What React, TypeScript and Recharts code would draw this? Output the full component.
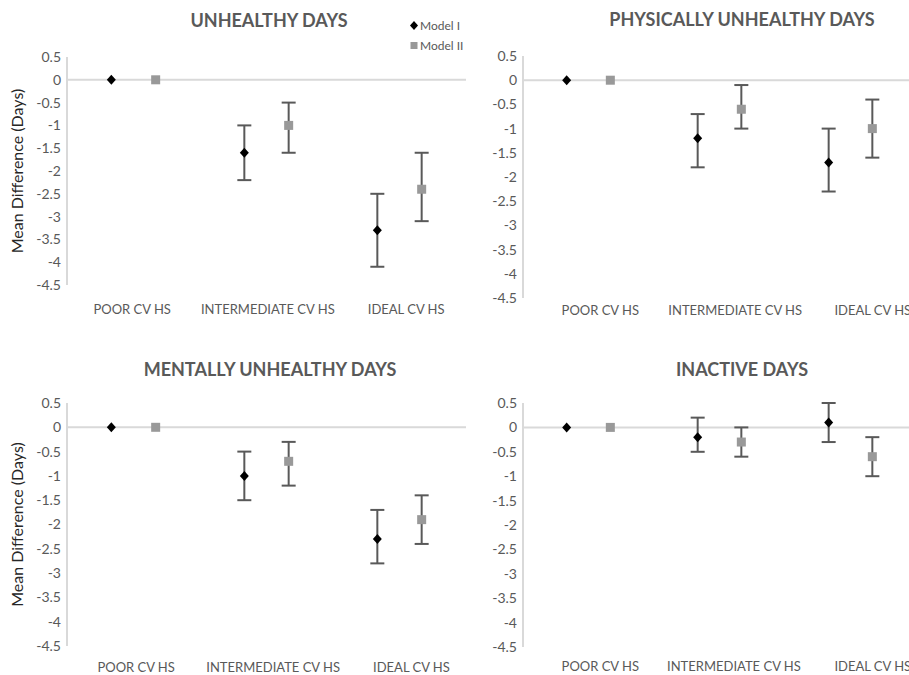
import { ErrorBar, Legend, ReferenceLine, Scatter, ScatterChart, XAxis, YAxis } from "recharts";

const categories = ["POOR CV HS", "INTERMEDIATE CV HS", "IDEAL CV HS"];
const yTicks = [0.5, 0, -0.5, -1, -1.5, -2, -2.5, -3, -3.5, -4, -4.5];
const seriesNames = ["Model I", "Model II"];

// unhealthy days
const unhealthyM1 = [0, -1.6, -3.3];
const unhealthyM1Low = [0, -2.2, -4.1];
const unhealthyM1High = [0, -1.0, -2.5];
const unhealthyM2 = [0, -1.0, -2.4];
const unhealthyM2Low = [0, -1.6, -3.1];
const unhealthyM2High = [0, -0.5, -1.6];

// physically unhealthy days
const physicalM1 = [0, -1.2, -1.7];
const physicalM1Low = [0, -1.8, -2.3];
const physicalM1High = [0, -0.7, -1.0];
const physicalM2 = [0, -0.6, -1.0];
const physicalM2Low = [0, -1.0, -1.6];
const physicalM2High = [0, -0.1, -0.4];

// mentally unhealthy days
const mentalM1 = [0, -1.0, -2.3];
const mentalM1Low = [0, -1.5, -2.8];
const mentalM1High = [0, -0.5, -1.7];
const mentalM2 = [0, -0.7, -1.9];
const mentalM2Low = [0, -1.2, -2.4];
const mentalM2High = [0, -0.3, -1.4];

// inactive days
const inactiveM1 = [0, -0.2, 0.1];
const inactiveM1Low = [0, -0.5, -0.3];
const inactiveM1High = [0, 0.2, 0.5];
const inactiveM2 = [0, -0.3, -0.6];
const inactiveM2Low = [0, -0.6, -1.0];
const inactiveM2High = [0, 0.0, -0.2];

const FONT = "Lato, 'Open Sans', sans-serif";
const TEXT = "#595959";
const GRID = "#d9d9d9";
const M1_COLOR = "#000000";
const M2_COLOR = "#999999";

function build(values: number[], low: number[], high: number[], offset: number) {
	return values.map((v, i) => ({
		x: i + offset,
		y: v,
		err: low[i] === high[i] ? undefined : [v - low[i], high[i] - v],
	}));
}

const Diamond = (p: any) => (
	<polygon
		points={`${p.cx},${p.cy - 5} ${p.cx + 4.5},${p.cy} ${p.cx},${p.cy + 5} ${p.cx - 4.5},${p.cy}`}
		fill={M1_COLOR}
	/>
);

const Square = (p: any) => <rect x={p.cx - 4.5} y={p.cy - 4.5} width={9} height={9} fill={M2_COLOR} />;

const LegendContent = (props: any) => (
	<ul style={{ margin: 0, padding: 0, listStyle: "none" }}>
		{(props.payload || []).map((e: any) => (
			<li key={e.value} style={{ height: 20, display: "flex", alignItems: "center", whiteSpace: "nowrap" }}>
				<svg width={8} height={9} style={{ marginRight: 2 }}>
					{e.type === "diamond" ? (
						<polygon points="4,0 8,4.5 4,9 0,4.5" fill={M1_COLOR} />
					) : (
						<rect x={0.5} y={1} width={7} height={7} fill={M2_COLOR} />
					)}
				</svg>
				<span style={{ color: TEXT }}>{e.value}</span>
			</li>
		))}
	</ul>
);

const panels = [
	{
		title: "UNHEALTHY DAYS",
		left: 0, top: 0, width: 466, height: 330,
		margin: { top: 57, right: 0, left: 27, bottom: 15 },
		yWidth: 40, xHeight: 30, tickGap: 20,
		tickPos: [0.49, 1.51, 2.55],
		titleX: 269, titleY: 20,
		yLabel: true, legend: true,
		m1: build(unhealthyM1, unhealthyM1Low, unhealthyM1High, 1 / 3),
		m2: build(unhealthyM2, unhealthyM2Low, unhealthyM2High, 2 / 3),
	},
	{
		title: "PHYSICALLY UNHEALTHY DAYS",
		left: 466, top: 0, width: 450, height: 330,
		margin: { top: 56, right: 0, left: 12, bottom: 2 },
		yWidth: 45, xHeight: 30, tickGap: 8,
		tickPos: [0.59, 1.62, 2.67],
		titleX: 742, titleY: 19,
		yLabel: false, legend: false,
		m1: build(physicalM1, physicalM1Low, physicalM1High, 1 / 3),
		m2: build(physicalM2, physicalM2Low, physicalM2High, 2 / 3),
	},
	{
		title: "MENTALLY UNHEALTHY DAYS",
		left: 0, top: 340, width: 466, height: 335,
		margin: { top: 63, right: 0, left: 27, bottom: 4 },
		yWidth: 40, xHeight: 25, tickGap: 17,
		tickPos: [0.52, 1.55, 2.59],
		titleX: 270, titleY: 369,
		yLabel: true, legend: false,
		m1: build(mentalM1, mentalM1Low, mentalM1High, 1 / 3),
		m2: build(mentalM2, mentalM2Low, mentalM2High, 2 / 3),
	},
	{
		title: "INACTIVE DAYS",
		left: 466, top: 340, width: 450, height: 335,
		margin: { top: 63, right: 0, left: 12, bottom: 3 },
		yWidth: 45, xHeight: 25, tickGap: 15,
		tickPos: [0.59, 1.61, 2.67],
		titleX: 742, titleY: 369,
		yLabel: false, legend: false,
		m1: build(inactiveM1, inactiveM1Low, inactiveM1High, 1 / 3),
		m2: build(inactiveM2, inactiveM2Low, inactiveM2High, 2 / 3),
	},
];

function Panel({ p }: { p: (typeof panels)[number] }) {
	return (
		<div style={{ position: "absolute", left: p.left, top: p.top }}>
			<ScatterChart width={p.width} height={p.height} margin={p.margin}>
				<XAxis
					type="number"
					dataKey="x"
					domain={[0, 3]}
					ticks={p.tickPos}
					interval={0}
					tickFormatter={(v: number) => categories[Math.floor(v)]}
					axisLine={false}
					tickLine={false}
					tickSize={0}
					tickMargin={p.tickGap}
					height={p.xHeight}
					tick={{ fill: TEXT, fontSize: 13, fontFamily: FONT }}
					allowDataOverflow
				/>
				<YAxis
					type="number"
					dataKey="y"
					domain={[-4.5, 0.5]}
					ticks={yTicks}
					interval={0}
					width={p.yWidth}
					axisLine={{ stroke: GRID, strokeWidth: 2 }}
					tickLine={false}
					tickSize={0}
					tickMargin={6}
					tick={{ fill: TEXT, fontSize: 14, fontFamily: FONT }}
					allowDataOverflow
					label={
						p.yLabel
							? {
									value: "Mean Difference (Days)",
									angle: -90,
									position: "insideLeft",
									offset: -10,
									style: { textAnchor: "middle", fill: "#262626", fontSize: 16, fontFamily: FONT },
								}
							: undefined
					}
				/>
				<ReferenceLine y={0} stroke={GRID} strokeWidth={2} />
				{p.legend ? (
					<Legend
						layout="vertical"
						align="center"
						verticalAlign="top"
						content={LegendContent}
						wrapperStyle={{
							top: 15,
							left: 410,
							width: 70,
							height: 0,
							overflow: "visible",
							fontSize: 12,
							fontFamily: FONT,
						}}
					/>
				) : null}
				<Scatter
					name={seriesNames[0]}
					data={p.m1}
					fill={M1_COLOR}
					legendType="diamond"
					shape={Diamond}
					isAnimationActive={false}
				>
					<ErrorBar dataKey="err" direction="y" width={7} stroke="#595959" strokeWidth={2} />
				</Scatter>
				<Scatter
					name={seriesNames[1]}
					data={p.m2}
					fill={M2_COLOR}
					legendType="square"
					shape={Square}
					isAnimationActive={false}
				>
					<ErrorBar dataKey="err" direction="y" width={7} stroke="#595959" strokeWidth={2} />
				</Scatter>
			</ScatterChart>
			<div
				style={{
					position: "absolute",
					left: p.titleX - p.left - 250,
					top: p.titleY - p.top - 11.5,
					width: 500,
					textAlign: "center",
					fontFamily: FONT,
					fontWeight: 700,
					fontSize: 18,
					lineHeight: "22px",
					color: TEXT,
					pointerEvents: "none",
				}}
			>
				{p.title}
			</div>
		</div>
	);
}

export default function App() {
	return (
		<div
			style={{
				position: "absolute",
				left: 0,
				top: 0,
				width: 909,
				height: 675,
				overflow: "hidden",
				background: "#ffffff",
			}}
		>
			{panels.map((p) => (
				<Panel key={p.title} p={p} />
			))}
		</div>
	);
}
